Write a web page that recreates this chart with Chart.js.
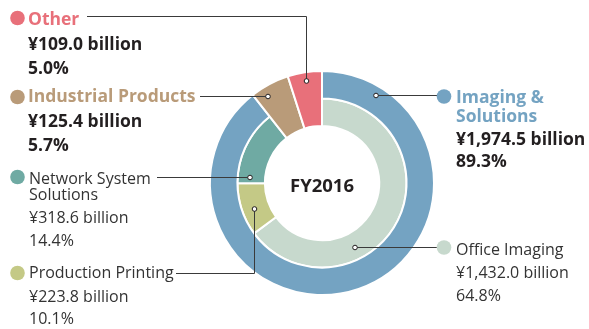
<!DOCTYPE html>
<html>
<head>
<meta charset="utf-8">
<script src="https://cdn.jsdelivr.net/npm/chart.js@4.4.1/dist/chart.umd.min.js"></script>
<style>
  html, body { margin: 0; padding: 0; background: #fff; }
  canvas { display: block; }
</style>
</head>
<body>
<canvas id="segments" width="589" height="329"></canvas>
<script>
// Business segments (outer ring) and their sub-segments (inner ring), ¥ billion
const segments = ['Imaging & Solutions', 'Industrial Products', 'Other'];
const segmentValues = [1974.5, 125.4, 109.0];
const segmentShares = [89.3, 5.7, 5.0];
const segmentColors = ['#74a3c2', '#b99b79', '#e8707a'];

const subSegments = ['Office Imaging', 'Production Printing', 'Network System Solutions'];
const subSegmentValues = [1432.0, 223.8, 318.6];
const subSegmentShares = [64.8, 10.1, 14.4];
const subSegmentColors = ['#c7d9cd', '#c4c986', '#6faaa3'];

const centerTitle = 'FY2016';

// callout layout: which ring/slice, text position, dot, leader line and anchor
const callouts = [
  { ring: 0, idx: 2, x: 28, bold: true, base: [25, 50, 74], dot: [17.5, 18], path: [[87, 16.5], [306.5, 16.5], [306.5, 81]], anchor: [306.5, 81] },
  { ring: 0, idx: 1, x: 28, bold: true, base: [102, 127, 151], dot: [17.5, 97], path: [[200, 96.5], [268, 96.5]], anchor: [268, 96.5] },
  { ring: 1, idx: 2, x: 29, bold: false, split: 2, base: [184, 200, 223, 246], dot: [17.5, 177], path: [[157, 177.5], [250, 177.5]], anchor: [250, 177.5] },
  { ring: 1, idx: 1, x: 29, bold: false, base: [278, 302, 324], dot: [17.5, 273], path: [[176, 273.5], [254.5, 273.5], [254.5, 209]], anchor: [254.5, 209] },
  { ring: 0, idx: 0, x: 456, bold: true, split: 2, base: [103, 122, 145, 167], dot: [444, 96.5], path: [[376, 95.5], [444, 95.5]], anchor: [376, 95.5] },
  { ring: 1, idx: 0, x: 456, bold: false, base: [255, 278, 301], dot: [444, 247.5], path: [[355, 247.5], [444, 247.5]], anchor: [355, 247.5] }
];

const FONT = '"Open Sans", "Noto Sans", sans-serif';

function fmtBillion(v) {
  return '¥' + v.toLocaleString('en-US', { minimumFractionDigits: 1, maximumFractionDigits: 1 }) + ' billion';
}

// outer Industrial/Other slices run through both rings, so pull their inner edge in
const throughSlices = {
  id: 'throughSlices',
  beforeDatasetsDraw(chart) {
    const outer = chart.getDatasetMeta(0).data;
    const inner = chart.getDatasetMeta(1).data;
    const r = inner[0].innerRadius;
    outer[1].innerRadius = r;
    outer[2].innerRadius = r;
  }
};

const callout = {
  id: 'callout',
  afterDraw(chart) {
    const ctx = chart.ctx;
    const area = chart.chartArea;
    ctx.save();

    // centre title
    ctx.fillStyle = '#231f20';
    ctx.font = 'bold 18.5px ' + FONT;
    ctx.textAlign = 'center';
    ctx.textBaseline = 'alphabetic';
    ctx.fillText(centerTitle, (area.left + area.right) / 2, 192);

    ctx.textAlign = 'left';
    callouts.forEach(c => {
      const names = c.ring === 0 ? segments : subSegments;
      const vals = c.ring === 0 ? segmentValues : subSegmentValues;
      const shares = c.ring === 0 ? segmentShares : subSegmentShares;
      const color = (c.ring === 0 ? segmentColors : subSegmentColors)[c.idx];

      // leader line
      ctx.strokeStyle = '#3a3a3a';
      ctx.lineWidth = 1;
      ctx.beginPath();
      c.path.forEach((p, i) => i ? ctx.lineTo(p[0], p[1]) : ctx.moveTo(p[0], p[1]));
      ctx.stroke();

      ctx.beginPath();
      ctx.arc(c.anchor[0], c.anchor[1], 2.3, 0, Math.PI * 2);
      ctx.fillStyle = '#fff';
      ctx.fill();
      ctx.strokeStyle = '#231f20';
      ctx.stroke();

      // legend dot
      ctx.beginPath();
      ctx.arc(c.dot[0], c.dot[1], 7.3, 0, Math.PI * 2);
      ctx.fillStyle = color;
      ctx.fill();

      // text lines
      let head = [names[c.idx]];
      if (c.split) {
        const w = names[c.idx].split(' ');
        head = [w.slice(0, c.split).join(' '), w.slice(c.split).join(' ')];
      }
      const lines = head.concat([fmtBillion(vals[c.idx]), shares[c.idx].toFixed(1) + '%']);
      lines.forEach((t, i) => {
        const isHead = i < head.length;
        if (c.bold) {
          ctx.font = 'bold 17.5px ' + FONT;
          ctx.fillStyle = isHead ? color : '#231f20';
        } else {
          ctx.font = '16px ' + FONT;
          ctx.fillStyle = '#333333';
        }
        ctx.fillText(t, c.x, c.base[i]);
      });
    });
    ctx.restore();
  }
};

new Chart(document.getElementById('segments'), {
  type: 'doughnut',
  plugins: [throughSlices, callout],
  data: {
    labels: segments.concat(subSegments),
    datasets: [
      {
        data: segmentValues,
        backgroundColor: segmentColors,
        borderColor: '#fff',
        borderWidth: 2
      },
      {
        // the last two slices only leave room for the outer ring's through-slices
        data: subSegmentValues.concat(segmentValues.slice(1)),
        backgroundColor: subSegmentColors.concat(['rgba(0,0,0,0)', 'rgba(0,0,0,0)']),
        borderColor: '#fff',
        borderWidth: [2, 2, 2, 0, 0]
      }
    ]
  },
  options: {
    responsive: false,
    animation: false,
    devicePixelRatio: 1,
    cutout: '51%',
    layout: { padding: { left: 209, right: 154, top: 70, bottom: 33 } },
    plugins: {
      legend: { display: false },
      tooltip: { enabled: false }
    },
    events: []
  }
});
</script>
</body>
</html>
